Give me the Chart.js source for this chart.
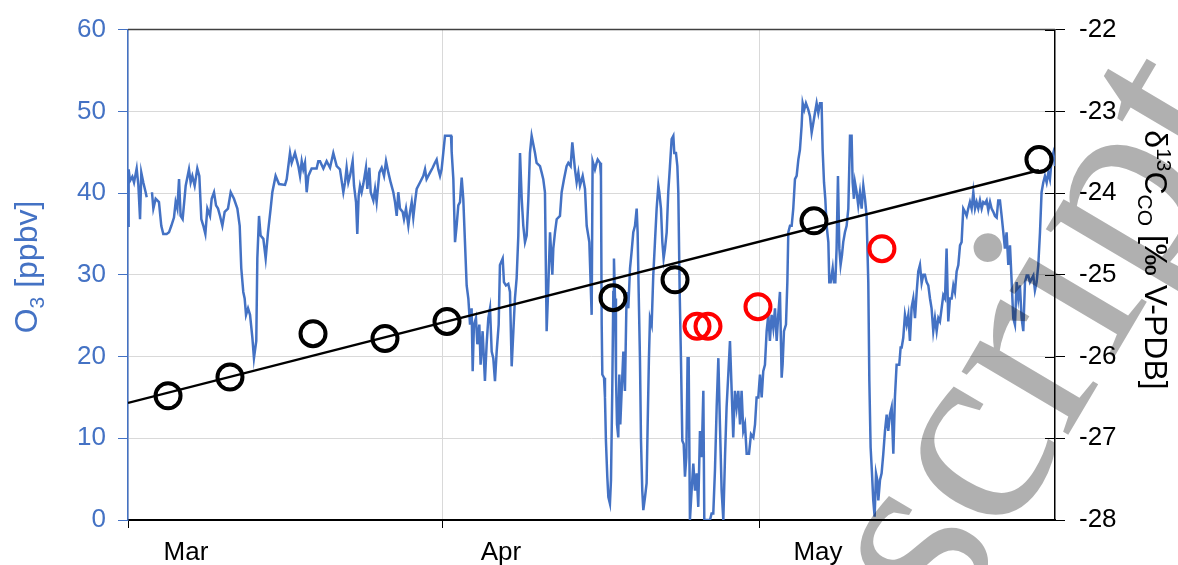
<!DOCTYPE html>
<html>
<head>
<meta charset="utf-8">
<script src="https://cdn.jsdelivr.net/npm/chart.js@4.4.1/dist/chart.umd.min.js"></script>
<style>
  html, body { margin: 0; padding: 0; background: #ffffff; }
  canvas { display: block; }
</style>
</head>
<body>
<canvas id="chart" width="1178" height="565"></canvas>
<script>
// Time is given in days since 1 March 00:00 (1 Apr = 31, 1 May = 61).

// Month labels and the days where their ticks sit (first tick = start of record)
const monthLabels = ['Mar', 'Apr', 'May'];
const monthTickDays = [1.19, 31, 61];

// Ozone record (ppbv); null marks a gap in the measurements
const o3Days = [
  1.19, 1.25, 1.38, 1.60, 1.76, 2.01, 2.17, 2.33, 2.45, 2.64, 2.86, 2.96, 3.2,
  3.46, 3.59, 3.81, 4.12, 4.34, 4.53, 4.85, 5.07, 5.29, 5.54, 5.70, 5.86, 6.02,
  6.17, 6.36, 6.65, 6.96, 7.12, 7.28, 7.50, 7.75, 7.94, 8.13, 8.32, 8.51, 8.70,
  8.95, 9.11, 9.33, 9.52, 9.71, 9.90, 10.12, 10.34, 10.65, 10.91, 11.22, 11.54,
  11.76, 11.91, 12.10, 12.23, 12.36, 12.55, 12.74, 12.96, 13.11, 13.33, 13.43,
  13.59, 13.74, 14.00, 14.22, 14.44, 14.69, 14.85, 15.16, 15.48,
  16.05, 16.21, 16.52, 16.68, 16.99, 17.31, 17.47, 17.63, 17.78, 17.94, 18.10,
  18.26, 18.57, 19.04, 19.20, 19.36, 19.68, 19.99, 20.31, 20.62, 20.94, 21.25,
  21.57, 21.73, 21.88, 22.04, 22.20, 22.45, 22.58, 22.77, 22.89, 23.02, 23.15,
  23.30, 23.46, 23.71, 23.84, 24.03, 24.16, 24.41, 24.57, 24.72, 24.98, 25.20,
  25.42, 25.61, 25.83, 26.05, 26.30, 26.46, 26.62, 26.77, 26.93, 27.18, 27.31,
  27.50, 27.72, 27.88, 28.04, 28.19, 28.35, 28.51, 28.82, 29.14, 29.30, 29.45,
  29.77, 30.02, 30.24, 30.40, 30.56, 30.72,
  30.87, 31.19, 31.50, 31.76, 31.82, 31.98, 32.14, 32.29, 32.45, 32.61, 32.77,
  32.92, 33.08, 33.24, 33.40, 33.56, 33.71, 33.81, 33.93, 34.12, 34.25, 34.44,
  34.56, 34.75, 34.97, 35.13, 35.29, 35.45, 35.61, 35.76, 35.92, 36.08, 36.27,
  36.39, 36.65, 36.77, 36.96, 37.18, 37.34, 37.50, 37.66, 37.81, 37.97, 38.13,
  38.29, 38.45, 38.60, 38.76, 38.92, 39.08, 39.23, 39.39, 39.71, 39.86, 40.18,
  40.34, 40.49, 40.65, 40.81, 40.97, 41.13, 41.35, 41.44, 41.60, 41.76, 42.07,
  42.23, 42.45, 42.70, 42.86, 43.08, 43.24, 43.49, 43.65, 43.81, 43.97, 44.22,
  44.44, 44.60, 44.85, 45.07, 45.16, 45.38, 45.54,
  45.64, 45.86, 45.95, 46.02, 46.08, 46.24, 46.33, 46.42, 46.55, 46.65, 46.80,
  46.90, 47.02, 47.12, 47.18, 47.28, 47.37, 47.47, 47.59, 47.69, 47.78, 47.91,
  48.07, 48.22, 48.38, 48.54, 48.70, 48.85, 49.01, 49.17, 49.33, 49.42, 49.52,
  49.64, 49.74, 49.86, 49.96, 50.12, 50.27, 50.37, 50.49, 50.59, 50.75, 50.90,
  51.06, 51.22, 51.38, 51.47, 51.63, 51.76, 51.88, 52.01, 52.17, 52.32, 52.48,
  52.64, 52.80, 52.89, 53.05, 53.18, 53.27, 53.40, 53.52, 53.65, 53.78, 53.90,
  54.03, 54.15, 54.25, 54.37, 54.53, 54.69, 54.85, 55.01, 55.16, 55.32, 55.48,
  55.64, 55.73, 55.95, 56.27, 56.42, 56.58, 56.74, 56.90, 57.06, 57.21, 57.37,
  57.53, 57.69, 57.84, 58.00, 58.16, 58.32, 58.47, 58.63, 58.79, 58.95, 59.11,
  59.26, 59.42, 59.58, 59.74, 59.96, 60.15, 60.37, 60.53,
  60.68, 60.84, 61.00, 61.16, 61.31, 61.47, 61.63, 61.79, 61.94, 62.10, 62.26,
  62.42, 62.58, 62.73, 62.89, 63.05, 63.14, 63.27, 63.46, 63.59, 63.68, 63.84,
  64.00, 64.15, 64.31, 64.47, 64.63, 64.78, 64.94, 65.04, 65.19, 65.35, 65.57,
  65.73, 65.89, 66.05, 66.20, 66.36, 66.52, 66.68, 66.83, 66.93, 67.06, 67.18,
  67.31, 67.47, 67.56, 67.69, 67.88, 68.00, 68.13, 68.25, 68.38, 68.51, 68.63,
  68.76, 68.88, 69.04, 69.20, 69.36, 69.52, 69.67, 69.77, 69.89, 69.99, 70.15,
  70.30, 70.46, 70.62, 70.78, 70.94, 71.09, 71.25, 71.35, 71.47, 71.60, 71.72,
  71.85, 71.98, 72.10, 72.20, 72.36, 72.51, 72.67, 72.83, 72.99, 73.14, 73.30,
  73.46, 73.62, 73.77, 73.93, 74.18, 74.31,
  74.41, 74.56, 74.72, 74.88, 75.04, 75.19, 75.35, 75.51, 75.67, 75.83, 75.98,
  76.14, 76.30, 76.46, 76.61, 76.77, 76.93, 77.09, 77.24, 77.40, 77.56, 77.72,
  77.88, 78.03, 78.19, 78.35, 78.51, 78.66, 78.82, 78.98, 79.14, 79.30, 79.45,
  79.61, 79.77, 79.93, 80.08, 80.24, 80.40, 80.56, 80.71, 80.87, 81.03, 81.19,
  81.35, 81.50, 81.66, 81.82, 81.98, 82.13, 82.29, 82.45, 82.61, 82.77, 82.92,
  83.08, 83.24, 83.40, 83.55, 83.71, 83.87, 84.03, 84.18, 84.34, 84.50, 84.66,
  84.82, 84.97, 85.13, 85.29, 85.45, 85.60, 85.76, 85.92, 86.08, 86.24, 86.39,
  86.55, 86.71, 86.87, 87.02, 87.18, 87.34, 87.50, 87.65, 87.81, 87.97, 88.13,
  88.29, 88.44, 88.60, 88.76, 88.92
];
const o3Ppbv = [
  36.0, 42.9, 41.5, 42.0, 41.3, 43.0, 41.0, 36.8, 42.5, 41.3, 40.1, 39.5, null,
  40.1, 38.1, 39.3, 38.9, 36.0, 35.0, 35.0, 35.2, 36.0, 37.0, 38.9, 38.1, 41.7,
  37.2, 36.8, 40.9, 42.9, 41.3, 42.1, 40.9, 43.0, 42.1, 36.8, 36.0, 35.0, 38.1,
  37.2, 39.3, 40.1, 38.5, 38.1, 37.2, 36.0, 37.7, 38.1, 40.1, 39.3, 38.1,
  36.0, 30.8, 27.9, 27.1, 25.1, 25.9, 25.1, 22.3, 19.8, 21.9, 32.0,
  37.2, 34.8, 34.4, 32.0, 35.2, 38.1, 40.1, 42.1, 41.1,
  41.0, 41.7, 44.9, 43.7, 44.9, 43.3, 42.1, 43.9, 42.9, 43.7, 40.1,
  42.1, 43.0, 43.0, 43.9, 43.9, 43.0, 43.9, 43.1, 44.9, 43.3, 42.9,
  40.1, 41.3, 43.1, 41.3, 42.1, 43.9, 40.9, 38.9, 35.0, 39.7, 40.9,
  40.1, 41.1, 43.1, 40.5, 43.1, 40.1, 39.1, 40.5, 38.9, 42.5, 43.1,
  42.1, 43.9, 42.5, 41.3, 40.1, 38.9, 37.2, 40.1, 38.1, 37.7, 36.8,
  38.1, 36.0, 37.7, 38.9, 37.0, 38.9, 40.5, 41.3, 42.1, 42.9, 41.7,
  42.5, 43.1, 43.7, 44.1, 42.9, 42.1,
  42.9, 47.0, 47.0, 47.0, 45.1, 41.7, 34.0, 36.0, 38.5, 38.9, 41.9,
  39.3, 34.0, 28.7, 27.1, 23.9, 25.9, 18.2, 23.9, 24.7, 21.5, 23.9,
  19.0, 23.1, 17.0, 21.5, 24.7, 25.9, 20.6, 19.8, 17.0, 20.6, 23.9,
  31.2, 32.0, 29.1, 28.7, 28.9, 27.9, 18.8, 23.1, 27.1, 29.6, 34.8,
  44.9, 39.3, 36.0, 34.0, 34.8, 39.3, 44.9, 47.0, 44.9, 43.7, 43.3,
  42.5, 41.7, 40.1, 23.1, 28.7, 35.2, 30.0, 33.2, 35.2, 36.8, 37.2,
  40.1, 41.7, 43.3, 43.7, 43.3, 46.2, 42.9, 41.3, 42.5, 40.9, 42.1,
  40.5, 36.0, 34.0, 25.1, 43.9, 42.9, 43.7,
  44.1, 43.7, 42.1, 23.9, 17.8, 17.4, 15.0, 9.7, 5.3, 2.8, 2.0,
  4.9, 15.8, 27.9, 32.0, 27.1, 17.8, 11.7, 10.1, 17.8, 11.7, 15.8,
  20.6, 15.8, 27.9, 25.9, 30.8, 32.8, 35.2, 36.0, 38.1, 35.2, 27.9,
  19.8, 9.7, 3.6, 1.2, 2.8, 4.5, 11.7, 19.8, 24.7, 23.9, 29.9,
  34.0, 38.1, 40.9, 40.1, 38.1, 34.0, 32.0, 33.2, 35.2, 40.1, 43.3,
  46.6, 47.0, 44.9, 44.9, 43.3, 40.1, 27.9, 19.8, 9.7, 9.3, 5.3,
  7.7, 19.8, 19.8, 0.0, 3.6, 6.9, 3.6, 5.7, 1.6, 10.9, 7.7,
  15.8, 0.0, 0.0, 0.0, 0.8, 0.8, 6.1, 13.8, 19.8, 11.7, 3.6,
  0.0, 7.7, 13.8, 17.8, 21.9, 15.8, 10.1, 15.8, 13.8, 15.8, 11.7,
  15.8, 10.9, 11.7, 8.1, 8.1, 10.5, 10.1, 11.7,
  15.0, 15.0, 17.8, 15.0, 18.2, 19.0, 23.1, 25.1, 21.9, 25.1, 23.5,
  25.9, 21.9, 25.1, 27.9, 17.4, 19.0, 23.1, 23.9, 29.1, 35.2, 36.0,
  36.0, 38.1, 41.7, 42.1, 44.1, 45.3, 48.2, 51.0, 50.2, 51.0, 50.2,
  49.4, 47.4, 48.6, 49.8, 51.0, 49.8, 51.0, 51.0, 45.3, 41.3, 39.3,
  36.0, 34.0, 29.1, 29.1, 30.8, 29.1, 29.1, 33.2, 42.1, 33.2, 31.2,
  32.4, 34.0, 35.2, 36.0, 38.1, 47.0, 47.0, 41.3, 39.3, 41.3, 40.1,
  38.5, 40.1, 38.1, 40.9, 39.3, 37.2, 29.1, 17.0, 8.9, 5.7, 2.4,
  0.4, 5.7, 4.9, 2.4, 4.9, 5.7, 8.1, 10.9, 12.9, 10.9, 12.9,
  13.8, 8.1, 15.0, 19.0, 19.0, 21.1,
  21.1, 22.3, 25.1, 23.9, 25.1, 21.9, 26.0, 27.1, 24.7, 27.9, 30.4,
  31.2, 29.0, 30.0, 30.0, 29.1, 28.7, 27.1, 25.9, 23.1, 24.7, 23.1,
  24.7, 24.3, 25.9, 27.5, 27.1, 33.2, 24.3, 27.1, 27.1, 28.7, 27.9,
  30.4, 31.2, 33.6, 34.0, 38.1, 37.7, 37.2, 38.1, 38.9, 38.1, 40.1,
  38.1, 38.9, 38.1, 39.1, 38.1, 38.9, 38.7, 39.1, 37.9, 38.9, 38.1,
  37.7, 37.2, 37.0, 39.1, 39.1, 37.2, 35.2, 33.2, 35.2, 31.2, 33.6,
  29.1, 24.7, 23.9, 29.1, 27.1, 28.7, 24.7, 23.1, 29.1, 29.9, 29.9,
  29.1, 29.5, 29.9, 28.1, 29.1, 31.2, 35.2, 40.1, 41.3, 42.1, 41.3,
  42.5, 41.7, 44.1, 44.9, 43.3
];

// δ13C of CO (‰ V-PDB), samples used for the trend
const d13cDays = [4.98, 10.84, 18.70, 25.51, 31.38, 47.09, 52.96, 66.11, 87.40];
const d13cValues = [-26.48, -26.25, -25.72, -25.78, -25.57, -25.28, -25.06, -24.34, -23.59];

// δ13C of CO (‰ V-PDB), samples set apart from the trend
const d13cOtherDays = [55.04, 56.08, 60.81, 72.54];
const d13cOtherValues = [-25.63, -25.63, -25.39, -24.68];

// Axis tick values
const o3Ticks = [0, 10, 20, 30, 40, 50, 60];
const d13cTicks = [-28, -27, -26, -25, -24, -23, -22];

// ---- derived data -------------------------------------------------------
const toPoints = (xs, ys) => xs.map((x, i) => ({ x: x, y: ys[i] }));

// least-squares line through the trend samples, from record start to last sample
function trendLine(xs, ys, x0, x1) {
  const n = xs.length;
  const mx = xs.reduce((a, b) => a + b, 0) / n;
  const my = ys.reduce((a, b) => a + b, 0) / n;
  let sxy = 0, sxx = 0;
  for (let i = 0; i < n; i++) {
    sxy += (xs[i] - mx) * (ys[i] - my);
    sxx += (xs[i] - mx) * (xs[i] - mx);
  }
  const b = sxy / sxx;
  const a = my - b * mx;
  return [{ x: x0, y: a + b * x0 }, { x: x1, y: a + b * x1 }];
}

const BLUE = '#4472C4';
const GRID = '#d9d9d9';
const FONT = '"Liberation Sans", Arial, sans-serif';
const TICK_PX = 26;
const TITLE_PX = 32;

// ---- axis titles with sub/superscripts -----------------------------------
function drawRich(ctx, parts, size) {
  const small = Math.round(size * 0.66);
  const widths = parts.map(p => {
    ctx.font = (p.s ? small : size) + 'px ' + FONT;
    return ctx.measureText(p.t).width;
  });
  const total = widths.reduce((a, b) => a + b, 0);
  let x = -total / 2;
  parts.forEach((p, i) => {
    ctx.font = (p.s ? small : size) + 'px ' + FONT;
    const dy = p.s === 1 ? -size * 0.36 : (p.s === -1 ? size * 0.22 : 0);
    ctx.fillText(p.t, x, dy);
    x += widths[i];
  });
}

const axisTitles = {
  id: 'axisTitles',
  afterDraw(chart) {
    const ctx = chart.ctx;
    ctx.save();
    ctx.textBaseline = 'alphabetic';
    ctx.textAlign = 'left';

    ctx.save();
    ctx.fillStyle = BLUE;
    ctx.translate(37, 267);
    ctx.rotate(-Math.PI / 2);
    drawRich(ctx, [{ t: 'O' }, { t: '3', s: -1 }, { t: ' [ppbv]' }], TITLE_PX);
    ctx.restore();

    ctx.save();
    ctx.fillStyle = '#000000';
    ctx.translate(1145, 260);
    ctx.rotate(Math.PI / 2);
    drawRich(ctx, [{ t: 'δ' }, { t: '13', s: 1 }, { t: 'C' }, { t: 'CO', s: -1 }, { t: ' [‰ V-PDB]' }], TITLE_PX);
    ctx.restore();

    ctx.restore();
  }
};

// frame line along the top of the plot area, and inner ticks on the right axis
const frameExtras = {
  id: 'frameExtras',
  afterDatasetsDraw(chart) {
    const { ctx, chartArea: a } = chart;
    const y2 = chart.scales.y2;
    ctx.save();
    ctx.strokeStyle = '#404040';
    ctx.lineWidth = 1.5;
    ctx.beginPath();
    ctx.moveTo(a.left, a.top);
    ctx.lineTo(a.right, a.top);
    ctx.stroke();
    ctx.strokeStyle = '#000000';
    ctx.lineWidth = 1;
    d13cTicks.forEach(v => {
      const y = Math.round(y2.getPixelForValue(v)) + 0.5;
      ctx.beginPath();
      ctx.moveTo(a.right - 10, y);
      ctx.lineTo(a.right, y);
      ctx.stroke();
    });
    ctx.restore();
  }
};

// large diagonal grey lettering across the lower right
const watermark = {
  id: 'watermark',
  afterDraw(chart) {
    const ctx = chart.ctx;
    ctx.save();
    ctx.translate(951, 633);
    ctx.rotate(-59.4 * Math.PI / 180);
    ctx.font = '270px "Liberation Serif", "Times New Roman", serif';
    ctx.fillStyle = 'rgba(0,0,0,0.31)';
    ctx.textAlign = 'left';
    ctx.textBaseline = 'alphabetic';
    ctx.fillText('script', 0, 0);
    ctx.restore();
  }
};

const ctx = document.getElementById('chart').getContext('2d');
new Chart(ctx, {
  type: 'scatter',
  data: {
    datasets: [
      {
        label: 'O3',
        type: 'line',
        data: toPoints(o3Days, o3Ppbv),
        yAxisID: 'y',
        borderColor: BLUE,
        borderWidth: 2.5,
        pointRadius: 0,
        tension: 0,
        spanGaps: false,
        order: 4
      },
      {
        label: 'trend',
        type: 'line',
        data: trendLine(d13cDays, d13cValues, o3Days[0], d13cDays[d13cDays.length - 1]),
        yAxisID: 'y2',
        borderColor: '#000000',
        borderWidth: 2.4,
        pointRadius: 0,
        order: 3
      },
      {
        label: 'δ13C CO',
        data: toPoints(d13cDays, d13cValues),
        yAxisID: 'y2',
        pointRadius: 12.5,
        pointBorderWidth: 4,
        borderColor: '#000000',
        backgroundColor: 'rgba(0,0,0,0)',
        showLine: false,
        order: 2
      },
      {
        label: 'δ13C CO (other)',
        data: toPoints(d13cOtherDays, d13cOtherValues),
        yAxisID: 'y2',
        pointRadius: 12.5,
        pointBorderWidth: 4,
        borderColor: '#ff0000',
        backgroundColor: 'rgba(0,0,0,0)',
        showLine: false,
        order: 1
      }
    ]
  },
  options: {
    responsive: false,
    animation: false,
    layout: { padding: { top: 26, left: 0, right: 0, bottom: 0 } },
    plugins: { legend: { display: false }, tooltip: { enabled: false } },
    scales: {
      x: {
        type: 'linear',
        position: 'bottom',
        min: o3Days[0],
        max: o3Days[o3Days.length - 1],
        afterBuildTicks: (scale) => { scale.ticks = monthTickDays.map(v => ({ value: v })); },
        afterFit: (scale) => { scale.height = 45; },
        ticks: {
          autoSkip: false,
          maxRotation: 0,
          color: '#000000',
          font: { family: FONT, size: TICK_PX },
          padding: 9,
          labelOffset: 58,
          callback: (value, index) => monthLabels[index]
        },
        grid: { color: GRID, lineWidth: 1, tickColor: '#000000', tickLength: 8, drawTicks: true },
        border: { color: '#000000', width: 2 }
      },
      y: {
        type: 'linear',
        position: 'left',
        min: 0,
        max: 60,
        afterBuildTicks: (scale) => { scale.ticks = o3Ticks.map(v => ({ value: v })); },
        afterFit: (scale) => { scale.width = 128; },
        ticks: {
          color: BLUE,
          font: { family: FONT, size: TICK_PX },
          padding: 12
        },
        grid: {
          color: (c) => (c.tick && (c.tick.value === 0 || c.tick.value === 60)) ? 'rgba(0,0,0,0)' : GRID,
          lineWidth: 1,
          tickColor: BLUE,
          tickLength: 10
        },
        border: { color: BLUE, width: 1.5 }
      },
      y2: {
        type: 'linear',
        position: 'right',
        min: -28,
        max: -22,
        afterBuildTicks: (scale) => { scale.ticks = d13cTicks.map(v => ({ value: v })); },
        afterFit: (scale) => { scale.width = 123; },
        ticks: {
          color: '#000000',
          font: { family: FONT, size: TICK_PX },
          padding: 14
        },
        grid: { drawOnChartArea: false, tickColor: '#000000', tickLength: 10 },
        border: { color: '#000000', width: 1.5 }
      }
    }
  },
  plugins: [axisTitles, frameExtras, watermark]
});
</script>
</body>
</html>
